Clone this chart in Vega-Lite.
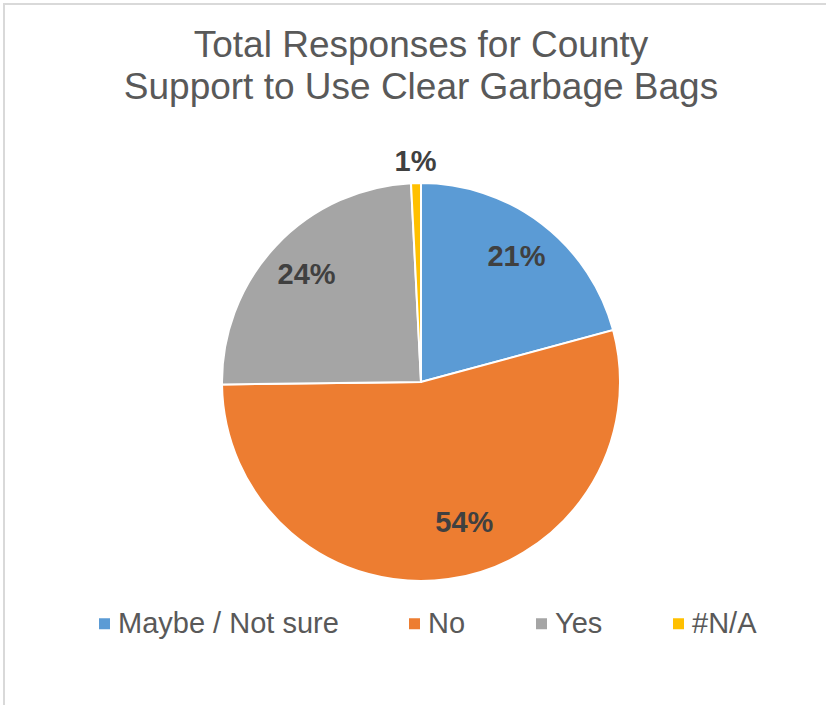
{
  "$schema": "https://vega.github.io/schema/vega-lite/v6.json",
  "autosize": {"type": "none"},
  "padding": {"left": 4, "top": 4, "right": 0, "bottom": 0},
  "width": 834,
  "height": 756,
  "background": "white",
  "config": {
    "view": {"stroke": null},
    "font": "Liberation Sans"
  },
  "title": {
    "text": ["Total Responses for County", "Support to Use Clear Garbage Bags"],
    "orient": "top",
    "anchor": "middle",
    "frame": "group",
    "baseline": "alphabetic",
    "offset": -133,
    "fontSize": 37,
    "fontWeight": "normal",
    "font": "Liberation Sans",
    "color": "#595959",
    "lineHeight": 42
  },
  "datasets": {
    "responses": [
      {"response": "Maybe / Not sure", "share": 0.208, "rank": 1},
      {"response": "No", "share": 0.540, "rank": 2},
      {"response": "Yes", "share": 0.244, "rank": 3},
      {"response": "#N/A", "share": 0.008, "rank": 4}
    ],
    "frame": [{"id": 1}]
  },
  "layer": [
    {
      "data": {"name": "frame"},
      "mark": {"type": "rect", "fill": null, "stroke": "#d9d9d9", "strokeWidth": 2},
      "encoding": {}
    },
    {
      "data": {"name": "responses"},
      "mark": {"type": "arc", "outerRadius": 199, "stroke": "white", "strokeWidth": 2},
      "encoding": {
        "theta": {"field": "share", "type": "quantitative", "stack": true},
        "order": {"field": "rank", "type": "quantitative"},
        "color": {
          "field": "response",
          "type": "nominal",
          "sort": null,
          "scale": {
            "domain": ["Maybe / Not sure", "No", "Yes", "#N/A"],
            "range": ["#5B9BD5", "#ED7D31", "#A5A5A5", "#FFC000"]
          },
          "legend": {
            "title": null,
            "orient": "none",
            "direction": "horizontal",
            "legendX": 86,
            "legendY": 605,
            "symbolType": "square",
            "symbolSize": 121,
            "symbolStrokeWidth": 0,
            "labelFontSize": 29,
            "labelColor": "#595959",
            "labelFont": "Liberation Sans",
            "labelOffset": -1,
            "columnPadding": 61,
            "padding": 0,
            "labelLimit": 400
          }
        }
      }
    },
    {
      "data": {"name": "responses"},
      "mark": {"type": "text", "radius": 157, "fontSize": 29, "fontWeight": "bold", "color": "#404040", "font": "Liberation Sans", "baseline": "middle", "align": "center"},
      "encoding": {
        "theta": {"field": "share", "type": "quantitative", "stack": true},
        "order": {"field": "rank", "type": "quantitative"},
        "text": {
          "condition": {"test": "datum.response == 'Maybe / Not sure' || datum.response == 'Yes'", "field": "share", "type": "quantitative", "format": ".0%"},
          "value": ""
        }
      }
    },
    {
      "data": {"name": "responses"},
      "mark": {"type": "text", "radius": 155, "dx": 22, "dy": -13, "fontSize": 29, "fontWeight": "bold", "color": "#404040", "font": "Liberation Sans", "baseline": "middle", "align": "center"},
      "encoding": {
        "theta": {"field": "share", "type": "quantitative", "stack": true},
        "order": {"field": "rank", "type": "quantitative"},
        "text": {
          "condition": {"test": "datum.response == 'No'", "field": "share", "type": "quantitative", "format": ".0%"},
          "value": ""
        }
      }
    },
    {
      "data": {"name": "responses"},
      "mark": {"type": "text", "radius": 220, "fontSize": 29, "fontWeight": "bold", "color": "#404040", "font": "Liberation Sans", "baseline": "middle", "align": "center"},
      "encoding": {
        "theta": {"field": "share", "type": "quantitative", "stack": true},
        "order": {"field": "rank", "type": "quantitative"},
        "text": {
          "condition": {"test": "datum.response == '#N/A'", "field": "share", "type": "quantitative", "format": ".0%"},
          "value": ""
        }
      }
    }
  ]
}
